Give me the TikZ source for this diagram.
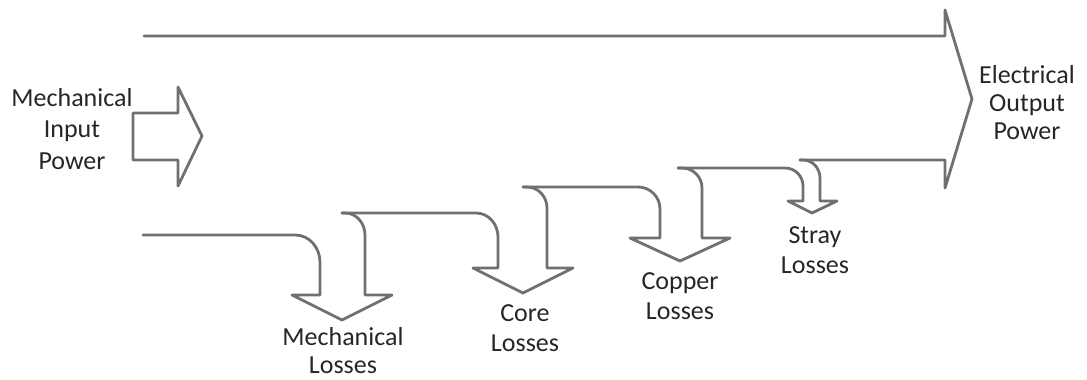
\documentclass[tikz,border=0pt]{standalone}
\usepackage{fontspec}
\setmainfont{Carlito}
\definecolor{flowgray}{RGB}{112,112,112}
\tikzset{
  flow/.style={draw=flowgray, line width=2.8pt, line join=round, line cap=round},
  lbl/.style={align=center, inner sep=0pt, font=\fontsize{26}{30}\selectfont, text=black!85}
}
\begin{document}
\begin{tikzpicture}[x=1pt,y=-1pt]
\useasboundingbox (0,0) rectangle (1087,380);
% input arrow
\draw[flow] (133,113) -- (178,113) -- (178,87) -- (202,136) -- (178,186) -- (178,160) -- (133,160) -- cycle;
% top edge and output head
\draw[flow] (144,36) -- (945,36) -- (945,10) -- (972,99) -- (945,188) -- (945,160) -- (800,160);
% mechanical losses
\draw[flow] (143,235) -- (295,235) to[out=0,in=90] (320,262) -- (320,295) -- (292,295) -- (342,320) -- (392,295) -- (365,295) -- (365,235) to[out=90,in=0] (345,213) -- (342,213);
% core losses
\draw[flow] (342,213) -- (476,213) to[out=0,in=90] (498,237) -- (498,268) -- (473,268) -- (523,293) -- (573,268) -- (547,268) -- (547,208) to[out=90,in=0] (527,187) -- (523,187);
% copper losses
\draw[flow] (523,187) -- (638,187) to[out=0,in=90] (660,209) -- (660,238) -- (630,238) -- (680,261) -- (730,238) -- (702,238) -- (702,188) to[out=90,in=0] (682,168) -- (678,168);
% stray losses
\draw[flow] (678,168) -- (785,168) to[out=0,in=90] (803,186) -- (803,201) -- (788,201) -- (812,213) -- (837,201) -- (820,201) -- (820,178) to[out=90,in=0] (803,160) -- (800,160);
% labels
\node[lbl, font=\fontsize{26}{31.5}\selectfont] (mip) at (72,129) {Mechanical\\Input\\Power};
\node[lbl, font=\fontsize{26}{28}\selectfont] (eop) at (1027,103) {Electrical\\Output\\Power};
\node[lbl, font=\fontsize{26}{28}\selectfont] (ml) at (343,351) {Mechanical\\Losses};
\node[lbl] (cl) at (525,328) {Core\\Losses};
\node[lbl] (cul) at (680,296) {Copper\\Losses};
\node[lbl] (sl) at (815,250) {Stray\\Losses};
\end{tikzpicture}
\end{document}
